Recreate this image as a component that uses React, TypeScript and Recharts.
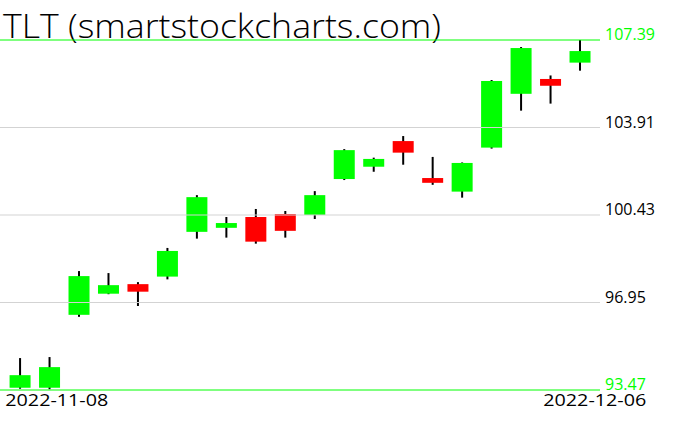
import { ComposedChart, Bar, XAxis, YAxis, ReferenceLine, Customized } from 'recharts';

const dates = [
  '2022-11-08', '2022-11-09', '2022-11-10', '2022-11-11', '2022-11-14',
  '2022-11-15', '2022-11-16', '2022-11-17', '2022-11-18', '2022-11-21',
  '2022-11-22', '2022-11-23', '2022-11-25', '2022-11-28', '2022-11-29',
  '2022-11-30', '2022-12-01', '2022-12-02', '2022-12-05', '2022-12-06',
];
const opens = [93.56, 93.56, 96.46, 97.3, 97.68, 97.98, 99.76, 99.92, 100.35, 100.47, 100.43, 101.86, 102.35, 103.37, 101.9, 101.36, 103.11, 105.25, 105.84, 106.49];
const highs = [94.74, 94.78, 98.2, 98.12, 97.76, 99.12, 101.22, 100.35, 100.67, 100.59, 101.38, 103.05, 102.71, 103.57, 102.74, 102.52, 105.8, 107.11, 105.98, 107.39];
const lows = [93.52, 93.5, 96.38, 97.28, 96.81, 97.87, 99.49, 99.53, 99.29, 99.53, 100.27, 101.82, 102.15, 102.43, 101.63, 101.12, 103.07, 104.58, 104.86, 106.17];
const closes = [94.06, 94.38, 98.0, 97.64, 97.38, 99.0, 101.14, 100.11, 99.37, 99.8, 101.22, 103.01, 102.66, 102.91, 101.71, 102.5, 105.76, 107.07, 105.57, 106.95];

const priceTicks = [93.47, 96.95, 100.43, 103.91, 107.39];
const dateTicks = [0, 19];

const data = dates.map((d, i) => ({
  i,
  date: d,
  open: opens[i],
  high: highs[i],
  low: lows[i],
  close: closes[i],
}));

const GREEN = '#00ff00';
const RED = '#ff0000';
const FONT = "'Open Sans', 'DejaVu Sans', sans-serif";

const Candle = (props: any) => {
  const { x, y, width, height, payload } = props;
  const { open, close, high, low } = payload;
  const top = Math.min(y, y + height);
  const h = Math.abs(height);
  const k = h / (high - low);
  const yOf = (v: number) => top + (high - v) * k;
  const bTop = yOf(Math.max(open, close));
  const bBot = yOf(Math.min(open, close));
  const cx = x + width / 2;
  return (
    <g>
      <line x1={cx} x2={cx} y1={top} y2={top + h} stroke="#000" strokeWidth={2} />
      <rect x={x} y={bTop} width={width} height={Math.max(bBot - bTop, 1)} fill={close >= open ? GREEN : RED} />
    </g>
  );
};

const PriceTick = (props: any) => {
  const { x, y, payload } = props;
  const edge = payload.value === priceTicks[0] || payload.value === priceTicks[priceTicks.length - 1];
  return (
    <text x={x} y={y} fill={edge ? GREEN : '#000'} fontSize={16} fontFamily={FONT} textAnchor="start">
      {payload.value.toFixed(2)}
    </text>
  );
};

const DateTick = (props: any) => {
  const { x, payload } = props;
  const first = payload.value === 0;
  return (
    <text
      x={first ? x - 15 : x + 66}
      y={406}
      fill="#000"
      fontSize={16}
      fontFamily={FONT}
      textAnchor={first ? 'start' : 'end'}
      textLength={103}
      lengthAdjust="spacingAndGlyphs"
    >
      {dates[payload.value]}
    </text>
  );
};

const Title = () => (
  <text x={3} y={38} fill="#000" fontSize={33} fontFamily={FONT} fontWeight={300} textLength={438} lengthAdjust="spacingAndGlyphs">
    TLT (smartstockcharts.com)
  </text>
);

export default function App() {
  return (
    <div style={{ position: 'absolute', left: 0, top: 0, background: '#fff' }}>
      <ComposedChart width={676} height={431} data={data} margin={{ top: 40, right: 0, bottom: 0, left: 0 }}>
        <XAxis
          dataKey="i"
          type="number"
          domain={[-0.689, 19.67]}
          ticks={dateTicks}
          tick={<DateTick />}
          axisLine={false}
          tickLine={false}
          height={41}
          allowDataOverflow
        />
        <YAxis
          orientation="right"
          type="number"
          domain={[93.47, 107.39]}
          ticks={priceTicks}
          tick={<PriceTick />}
          axisLine={false}
          tickLine={false}
          tickSize={0}
          tickMargin={5}
          width={76}
          allowDataOverflow
        />
        {priceTicks.slice(1, -1).map((v) => (
          <ReferenceLine key={v} y={v} stroke="#d3d3d3" strokeWidth={1} />
        ))}
        <ReferenceLine y={priceTicks[0]} stroke={GREEN} strokeWidth={1} />
        <ReferenceLine y={priceTicks[priceTicks.length - 1]} stroke={GREEN} strokeWidth={1} />
        <Bar dataKey={(d: any) => [d.low, d.high]} barSize={21} shape={<Candle />} isAnimationActive={false} />
        <Customized component={<Title />} />
      </ComposedChart>
    </div>
  );
}
